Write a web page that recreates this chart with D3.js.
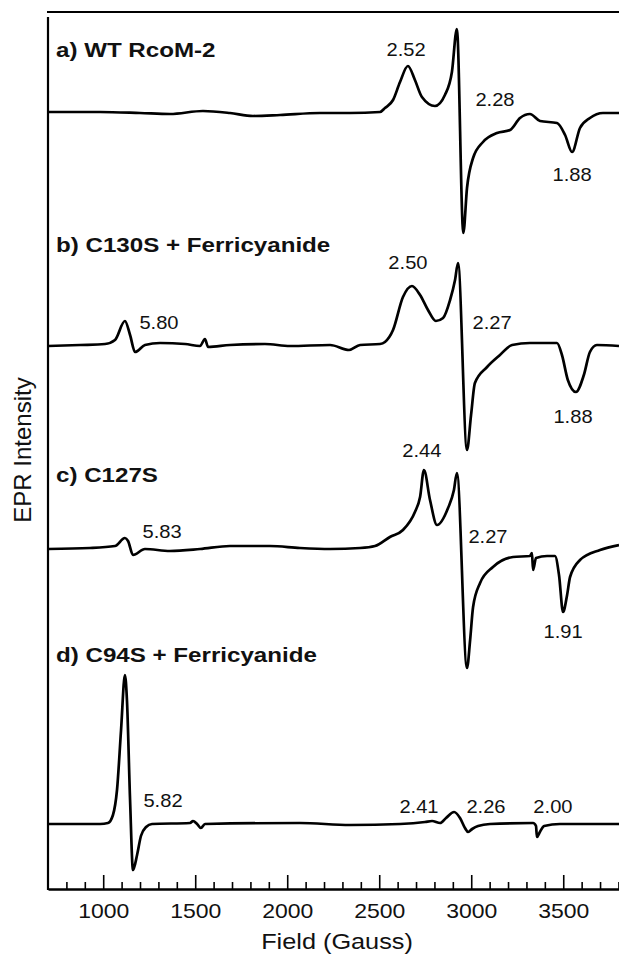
<!DOCTYPE html>
<html>
<head>
<meta charset="utf-8">
<script src="https://cdn.jsdelivr.net/npm/d3@7"></script>
<style>
  body { margin: 0; background: #fff; }
  svg { display: block; font-family: "Liberation Sans", Arial, sans-serif; }
</style>
</head>
<body>
<svg id="epr" width="619" height="956"></svg>
<script>
// EPR spectra, [field (G), intensity (arb.)] relative to each trace baseline
const traceA = [
  [700, 1], [983, 1], [1200, 0], [1363, -1], [1542, 2], [1689, 0], [1814, -3],
  [1961, -2], [2178, 0], [2341, 0], [2504, 1], [2531, 5], [2575, 13], [2613, 31],
  [2656, 47], [2694, 33], [2732, 16], [2803, 7], [2857, 18], [2895, 41], [2922, 84],
  [2957, -120], [2977, -75], [3010, -45], [3064, -29], [3140, -20], [3211, -17],
  [3265, -5], [3319, -1], [3374, -8], [3466, -10], [3510, -22], [3548, -39],
  [3591, -15], [3645, -5], [3716, 0], [3803, 0]
];
const traceB = [
  [700, -1], [874, 0], [1010, 1], [1064, 5], [1118, 24], [1146, 10], [1173, -7],
  [1227, 0], [1309, 2], [1445, 1], [1526, -1], [1553, 6], [1570, -2], [1689, 0],
  [1879, 1], [2015, -1], [2233, 0], [2336, -5], [2396, 0], [2504, 1], [2531, 3],
  [2575, 15], [2629, 48], [2678, 59], [2722, 50], [2765, 35], [2808, 24], [2847, 27],
  [2885, 45], [2912, 65], [2928, 82], [2977, -105], [2999, -70], [3020, -38],
  [3086, -22], [3156, -10], [3222, 0], [3319, 2], [3466, 2], [3493, -10], [3525, -35],
  [3569, -47], [3612, -30], [3645, -7], [3683, 0], [3803, -1]
];
const traceC = [
  [700, 0], [928, 1], [1064, 3], [1118, 11], [1135, 8], [1162, -6], [1227, 0],
  [1363, -2], [1526, 0], [1689, 3], [1906, 3], [2069, 1], [2233, 0], [2396, 1],
  [2477, 3], [2558, 12], [2629, 19], [2694, 37], [2722, 52], [2743, 79], [2776, 49],
  [2814, 24], [2874, 41], [2906, 59], [2922, 76], [2977, -119], [2994, -91],
  [3010, -58], [3048, -34], [3118, -18], [3227, -8], [3319, -7], [3330, -4],
  [3336, -21], [3352, -9], [3412, -7], [3455, -7], [3477, -26], [3499, -63],
  [3521, -46], [3537, -28], [3591, -11], [3700, -1], [3803, 4]
];
const traceD = [
  [700, 0], [983, 0], [1026, 1], [1053, 9], [1075, 34], [1097, 94], [1118, 149],
  [1129, 124], [1146, 24], [1162, -46], [1184, -31], [1205, -12], [1233, -3],
  [1265, 0], [1472, 1], [1488, 3], [1510, 0], [1531, -4], [1553, 0], [2069, 1],
  [2341, -1], [2613, 0], [2749, 2], [2787, 3], [2831, 1], [2863, 6], [2907, 12],
  [2939, 6], [2966, -4], [2983, -8], [3005, -5], [3037, -2], [3102, 0], [3336, 1],
  [3352, -2], [3357, -13], [3373, -8], [3396, -2], [3482, 0], [3803, 0]
];
const traces = [traceA, traceB, traceC, traceD];
const traceOffsets = [776, 544, 340, 65];

const panelTitles = ["a) WT RcoM-2", "b) C130S + Ferricyanide", "c) C127S", "d) C94S + Ferricyanide"];
const titleY = [57, 252, 482, 662];

// g-value annotations: [trace index, text, field, intensity]
const gLabels = [
  [0, "2.52", 2646, 57], [0, "2.28", 3129, 7], [0, "1.88", 3548, -68],
  [1, "5.80", 1303, 16], [1, "2.50", 2656, 76], [1, "2.27", 3113, 16], [1, "1.88", 3553, -78],
  [2, "5.83", 1320, 11], [2, "2.44", 2732, 92], [2, "2.27", 3091, 6], [2, "1.91", 3499, -89],
  [3, "5.82", 1325, 17], [3, "2.41", 2716, 11], [3, "2.26", 3080, 11], [3, "2.00", 3444, 11]
];

const majorTicks = [1000, 1500, 2000, 2500, 3000, 3500];
const minorTicks = d3.range(800, 3801, 100).filter((v) => v % 500 !== 0);

const STRETCH = 1.15;
const svg = d3.select("#epr");
const x = d3.scaleLinear().domain([700, 3803]).range([48, 619]);
const y = d3.scaleLinear().domain([0, 877]).range([889, 12]);

// frame: top rule + left axis line
svg.append("line").attr("x1", 47).attr("x2", 619).attr("y1", 12).attr("y2", 12)
  .attr("stroke", "#000").attr("stroke-width", 2.2);
svg.append("line").attr("x1", 48).attr("x2", 48).attr("y1", 17).attr("y2", 890)
  .attr("stroke", "#000").attr("stroke-width", 2.2);

// minor ticks
svg.append("g")
  .attr("transform", "translate(0,889)")
  .call(d3.axisBottom(x).tickValues(minorTicks).tickSizeInner(-7).tickSizeOuter(0).tickFormat(""))
  .call((g) => g.select(".domain").remove())
  .selectAll("line").attr("stroke-width", 1.6);

// major ticks + labels
const xAxis = svg.append("g")
  .attr("transform", "translate(0,889)")
  .call(d3.axisBottom(x).tickValues(majorTicks).tickSizeInner(-14).tickSizeOuter(0)
    .tickPadding(15).tickFormat(d3.format("d")));
xAxis.select(".domain").attr("stroke-width", 2.4);
xAxis.selectAll("line").attr("stroke-width", 1.6);
xAxis.selectAll("text")
  .attr("font-size", 20)
  .attr("fill", "#111")
  .attr("transform", `scale(${STRETCH},1)`);

// axis titles
svg.append("text")
  .attr("transform", `translate(337,949) scale(${STRETCH},1)`)
  .attr("text-anchor", "middle").attr("font-size", 22).attr("fill", "#111")
  .text("Field (Gauss)");
svg.append("text")
  .attr("transform", "translate(31,450) rotate(-90)")
  .attr("text-anchor", "middle").attr("font-size", 24).attr("fill", "#111")
  .text("EPR Intensity");

// spectra
const line = d3.line()
  .x((d) => x(d[0]))
  .y((d) => y(d[1]))
  .curve(d3.curveMonotoneX);

traces.forEach((tr, i) => {
  svg.append("path")
    .datum(tr.map((d) => [d[0], d[1] + traceOffsets[i]]))
    .attr("d", line)
    .attr("fill", "none")
    .attr("stroke", "#000")
    .attr("stroke-width", 2.7)
    .attr("stroke-linejoin", "round");
});

// panel titles
svg.selectAll(".panel-title")
  .data(panelTitles)
  .join("text")
  .attr("class", "panel-title")
  .attr("transform", (d, i) => `translate(56,${titleY[i]}) scale(${STRETCH},1)`)
  .attr("font-size", 21)
  .attr("font-weight", "bold")
  .attr("fill", "#111")
  .text((d) => d);

// g-value labels
svg.selectAll(".g-label")
  .data(gLabels)
  .join("text")
  .attr("class", "g-label")
  .attr("transform", (d) => `translate(${x(d[2])},${y(d[3] + traceOffsets[d[0]])}) scale(${STRETCH},1)`)
  .attr("text-anchor", "middle")
  .attr("font-size", 17.5)
  .attr("fill", "#111")
  .text((d) => d[1]);
</script>
</body>
</html>
